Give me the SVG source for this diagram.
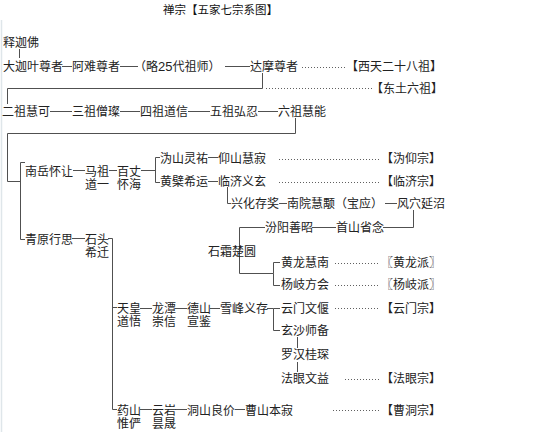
<svg xmlns="http://www.w3.org/2000/svg" width="541" height="442" viewBox="0 0 541 442">
<style>
text{font-family:'Liberation Sans','Noto Sans CJK SC',sans-serif;font-size:12px;fill:#222}
.t{font-size:11.5px;fill:#111}
.ln{stroke:#505050;stroke-width:1;fill:none}
.dt{stroke:#606060;stroke-width:1;stroke-dasharray:1 2;fill:none}
</style>
<rect width="541" height="442" fill="#fff"/>
<line x1="1.5" y1="20" x2="1.5" y2="432" stroke="#dfe6ea" stroke-width="1.5"/>
<g id="title"><text class="t" x="163" y="14">禅宗【五家七宗系图】</text></g>
<g id="connectors">
<path class="ln" d="M19.5 49V58"/>
<path class="ln" d="M62 66.5H72M120 66.5H138M225 66.5H250"/>
<path class="ln" d="M262.5 73V88.5H7.5V104"/>
<path class="dt" d="M266 88.5H372"/>
<path class="dt" d="M302 67.5H346"/>
<path class="ln" d="M50 111.5H72M120 111.5H140M188 111.5H210M258 111.5H278"/>
<path class="ln" d="M295.5 118V133.5H7.5V181.5H20.5"/>
<path class="ln" d="M25 162.5H20.5V239.5H25"/>
<path class="ln" d="M73 170.5H85M109 170.5H117M141 170.5H155.5"/>
<path class="ln" d="M160 157.5H155.5V182.5H160"/>
<path class="ln" d="M208 157.5H218M208 181.5H218"/>
<path class="dt" d="M279 159.5H380M279 182.5H380"/>
<path class="ln" d="M227.5 187V203.5H231"/>
<path class="ln" d="M279 203.5H287M385 203.5H397"/>
<path class="ln" d="M413.5 210V227.5H383M312 227.5H336"/>
<path class="ln" d="M265 227.5H239.5V273.5H273.5V262.5H280M273.5 273.5V285.5H280"/>
<path class="dt" d="M335 263.5H380M335 285.5H380"/>
<path class="ln" d="M72 238.5H85M108 238.5H112.5V409.5H117M112.5 307.5H117"/>
<path class="ln" d="M140 308.5H152M175 308.5H187M210 308.5H220M267 308.5H273.5V330.5H280M273.5 308.5H280"/>
<path class="dt" d="M335 308.5H380"/>
<path class="ln" d="M297.5 337V348M297.5 362V372"/>
<path class="dt" d="M345 379.5H380"/>
<path class="ln" d="M140 409.5H152M175 409.5H187M235 409.5H245"/>
<path class="dt" d="M333 410.5H380"/>
</g>
<g id="n-shijia"><text x="3" y="47">释迦佛</text></g>
<g id="n-row1">
<text x="3" y="71">大迦叶尊者</text>
<text x="72" y="71">阿难尊者</text>
<text x="134" y="71">（略<tspan font-size="13">25</tspan>代祖师）</text>
<text x="250" y="71">达摩尊者</text>
<text x="346" y="71">【西天二十八祖】</text>
</g>
<g id="n-dongtu"><text x="371" y="93">【东土六祖】</text></g>
<g id="n-row2">
<text x="2" y="116">二祖慧可</text>
<text x="72" y="116">三祖僧璨</text>
<text x="140" y="116">四祖道信</text>
<text x="210" y="116">五祖弘忍</text>
<text x="278" y="116">六祖慧能</text>
</g>
<g id="n-nanyue">
<text x="25" y="176">南岳怀让</text>
<text x="85" y="176">马祖</text><text x="85" y="189">道一</text>
<text x="117" y="176">百丈</text><text x="117" y="189">怀海</text>
</g>
<g id="n-weiyang">
<text x="160" y="163">沩山灵祐</text>
<text x="218" y="163">仰山慧寂</text>
<text x="381" y="163">【沩仰宗】</text>
</g>
<g id="n-linji">
<text x="160" y="186">黄檗希运</text>
<text x="218" y="186">临济义玄</text>
<text x="381" y="186">【临济宗】</text>
<text x="231" y="208">兴化存奖</text>
<text x="287" y="208">南院慧颙（宝应）</text>
<text x="397" y="208">风穴延沼</text>
<text x="336" y="232">首山省念</text>
<text x="265" y="232">汾阳善昭</text>
<text x="208" y="256">石霜楚圆</text>
</g>
<g id="n-huanglong">
<text x="281" y="267">黄龙慧南</text>
<text x="381" y="267">〖黄龙派〗</text>
</g>
<g id="n-yangqi">
<text x="281" y="289">杨岐方会</text>
<text x="381" y="289">〖杨岐派〗</text>
</g>
<g id="n-qingyuan">
<text x="25" y="244">青原行思</text>
<text x="85" y="244">石头</text><text x="85" y="257">希迁</text>
</g>
<g id="n-yunmen">
<text x="117" y="313">天皇</text><text x="117" y="326">道悟</text>
<text x="152" y="313">龙潭</text><text x="152" y="326">崇信</text>
<text x="187" y="313">德山</text><text x="187" y="326">宣鉴</text>
<text x="220" y="313">雪峰义存</text>
<text x="281" y="313">云门文偃</text>
<text x="381" y="313">【云门宗】</text>
</g>
<g id="n-fayan">
<text x="281" y="335">玄沙师备</text>
<text x="281" y="359">罗汉桂琛</text>
<text x="281" y="383">法眼文益</text>
<text x="381" y="383">【法眼宗】</text>
</g>
<g id="n-caodong">
<text x="117" y="415">药山</text><text x="117" y="428">惟俨</text>
<text x="152" y="415">云岩</text><text x="152" y="428">昙晟</text>
<text x="187" y="415">洞山良价</text>
<text x="245" y="415">曹山本寂</text>
<text x="381" y="415">【曹洞宗】</text>
</g>
</svg>
